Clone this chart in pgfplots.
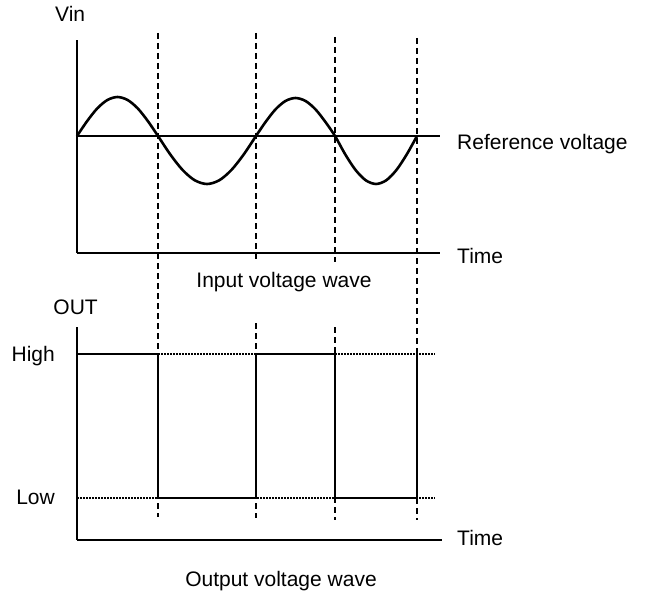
\documentclass[border=0pt]{standalone}
\usepackage{fontspec}
\setmainfont{Liberation Sans}
\usepackage{pgfplots}
\pgfplotsset{compat=1.18}

% Input sine wave (time units, volts relative to the reference level)
\pgfplotstableread{
t v
0 0
10.125 14.9
20.25 27.6
30.375 36.0
40.5 39
50.625 36.0
60.75 27.6
70.875 14.9
81 0
93.25 -18.4
105.5 -33.9
117.75 -44.3
130 -48
142.25 -44.3
154.5 -33.9
166.75 -18.4
179 0
188.9 14.5
198.75 26.9
208.6 35.1
218.5 38
228.4 35.1
238.25 26.9
248.1 14.5
258 0
268.25 -18.4
278.5 -33.9
288.75 -44.3
299 -48
309.25 -44.3
319.5 -33.9
329.75 -18.4
340 0
}\vin

% Comparator output: 1 = High, 0 = Low
\pgfplotstableread{
t out
0 1
81 1
81 0
179 0
179 1
258 1
258 0
340 0
340 1
}\vout

\begin{document}
\begin{tikzpicture}[txt/.style={font=\fontsize{21}{25}\selectfont, inner sep=0pt}]
\path[use as bounding box] (0,0) rectangle (645pt,-594pt);

% ---- input voltage ----
\begin{axis}[
  at={(77pt,-253pt)}, anchor=south west,
  x=1pt, y=1pt,
  xmin=0, xmax=363, ymin=-117, ymax=96,
  axis lines=left,
  axis line style={-, line width=2.2pt},
  xtick=\empty, ytick=\empty,
  clip=false,
]
% switching instants, shared with the output plot
\addplot[black, line width=1.3pt, dash pattern=on 6pt off 4pt] coordinates {(81,103) (81,-381)};
\addplot[black, line width=1.3pt, dash pattern=on 6pt off 4pt] coordinates {(179,103) (179,-126)};
\addplot[black, line width=1.3pt, dash pattern=on 6pt off 4pt] coordinates {(179,-187) (179,-382)};
\addplot[black, line width=1.3pt, dash pattern=on 6pt off 4pt] coordinates {(258,99) (258,-126)};
\addplot[black, line width=1.3pt, dash pattern=on 6pt off 4pt] coordinates {(258,-191) (258,-384)};
\addplot[black, line width=1.3pt, dash pattern=on 6pt off 4pt] coordinates {(340,98) (340,-384)};
% reference level
\addplot[black, line width=2.3pt] coordinates {(0,0) (363,0)};
% sine input
\addplot[black, line width=2.6pt, smooth] table[x=t, y=v] {\vin};
\end{axis}

% ---- output voltage ----
\begin{axis}[
  at={(77pt,-540pt)}, anchor=south west,
  x=1pt, y=144pt,
  xmin=0, xmax=365, ymin=-0.2917, ymax=1.1875,
  axis lines=left,
  axis line style={-, line width=2.2pt},
  xtick=\empty, ytick=\empty,
  clip=false,
]
\addplot[black, line width=1.3pt, dash pattern=on 1.5pt off 1.5pt] coordinates {(0,1) (358,1)};
\addplot[black, line width=1.3pt, dash pattern=on 1.5pt off 1.5pt] coordinates {(0,0) (358,0)};
\addplot[black, line width=2.8pt, line join=miter] table[x=t, y=out] {\vout};
\end{axis}

% labels
\node[txt, anchor=base west] at (55pt,-22pt) {Vin};
\node[txt, anchor=base west] at (457pt,-149pt) {Reference voltage};
\node[txt, anchor=base west] at (457pt,-263pt) {Time};
\node[txt, anchor=base] at (284pt,-287pt) {Input voltage wave};
\node[txt, anchor=base east] at (98pt,-314pt) {OUT};
\node[txt, anchor=base east] at (55pt,-361pt) {High};
\node[txt, anchor=base east] at (55pt,-504pt) {Low};
\node[txt, anchor=base west] at (457pt,-545pt) {Time};
\node[txt, anchor=base] at (281pt,-586pt) {Output voltage wave};
\end{tikzpicture}
\end{document}
